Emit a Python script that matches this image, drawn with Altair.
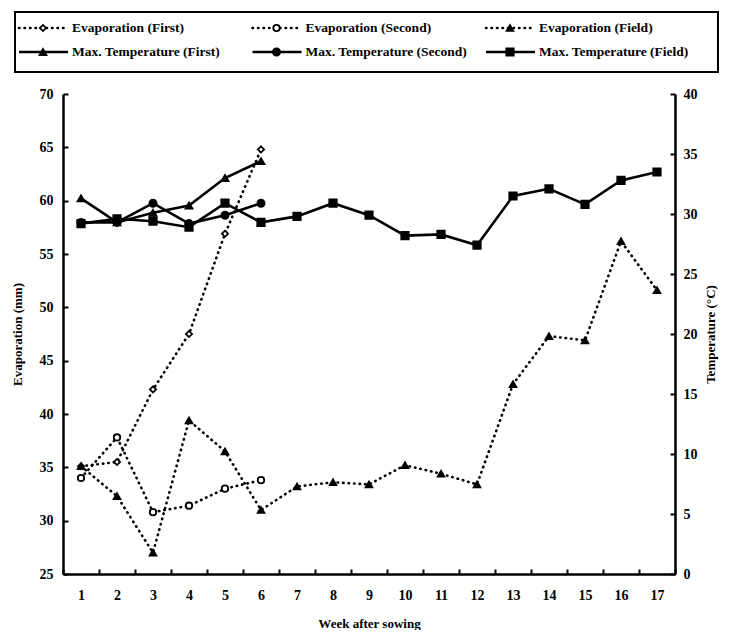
import altair as alt
import pandas as pd

weeks = list(range(1, 18))
series_names = [
    "Evaporation (First)", "Evaporation (Second)", "Evaporation (Field)",
    "Max. Temperature (First)", "Max. Temperature (Second)", "Max. Temperature (Field)",
]
evap_first = [35.1, 35.5, 42.3, 47.5, 56.9, 64.8]
evap_second = [34.0, 37.8, 30.8, 31.4, 33.0, 33.8]
evap_field = [35.1, 32.3, 27.0, 39.4, 36.5, 31.0, 33.2, 33.6, 33.4, 35.2, 34.4, 33.4,
              42.8, 47.3, 46.9, 56.2, 51.6]
temp_first = [31.3, 29.3, 30.1, 30.7, 33.0, 34.4]
temp_second = [29.3, 29.3, 30.9, 29.2, 29.9, 30.9]
temp_field = [29.2, 29.6, 29.4, 28.9, 30.9, 29.3, 29.8, 30.9, 29.9, 28.2, 28.3, 27.4,
              31.5, 32.1, 30.8, 32.8, 33.5]
evap_ticks = [25, 30, 35, 40, 45, 50, 55, 60, 65, 70]
temp_ticks = [0, 5, 10, 15, 20, 25, 30, 35, 40]

all_series = [evap_first, evap_second, evap_field, temp_first, temp_second, temp_field]
rows = []
for name, vals in zip(series_names, all_series):
    for w, v in zip(weeks, vals):
        rows.append({"week": w, "value": v, "series": name,
                     "kind": "evap" if name.startswith("Evap") else "temp"})
df = pd.DataFrame(rows)

FONT = "Liberation Serif"

shape_scale = alt.Scale(domain=series_names,
                        range=["diamond", "circle", "triangle-up", "triangle-up", "circle", "square"])
fill_scale = alt.Scale(domain=series_names,
                       range=["white", "white", "black", "black", "black", "black"])
size_scale = alt.Scale(domain=series_names, range=[38, 55, 40, 80, 115, 105])

inward = {"expr": "-5"}

x_enc = alt.X("week:O", bandPosition=0.5,
              scale=alt.Scale(type="band", paddingInner=0, paddingOuter=0),
              axis=alt.Axis(title="Week after sowing", labelAngle=0, tickBand="extent",
                            tickSize=inward, labelPadding=19, titlePadding=15))

y_evap = alt.Y("value:Q", scale=alt.Scale(domain=[25, 70], nice=False, zero=False),
               axis=alt.Axis(orient="left", title="Evaporation (mm)", values=evap_ticks,
                             tickSize=inward, labelPadding=15, titlePadding=15))
y_temp = alt.Y("value:Q", scale=alt.Scale(domain=[0, 40], nice=False),
               axis=alt.Axis(orient="right", title="Temperature (°C)", values=temp_ticks,
                             tickSize=inward, labelPadding=13, titlePadding=20, titleAngle=270))


def marker_enc():
    return dict(
        shape=alt.Shape("series:N", scale=shape_scale, legend=None),
        fill=alt.Fill("series:N", scale=fill_scale, legend=None),
        size=alt.Size("series:N", scale=size_scale, legend=None),
    )


base_e = alt.Chart(df).transform_filter(alt.datum.kind == "evap")
base_t = alt.Chart(df).transform_filter(alt.datum.kind == "temp")

evap_layer = alt.layer(
    base_e.mark_line(color="black", strokeWidth=2.6, strokeDash=[0.5, 5], strokeCap="round").encode(
        x=x_enc, y=y_evap, detail="series:N"),
    base_e.mark_point(opacity=1, strokeWidth=1.8, stroke="black").encode(
        x=x_enc, y=y_evap, **marker_enc()),
)
temp_layer = alt.layer(
    base_t.mark_line(color="black", strokeWidth=2.6).encode(
        x=x_enc, y=y_temp, detail="series:N"),
    base_t.mark_point(opacity=1, strokeWidth=1.8, stroke="black").encode(
        x=x_enc, y=y_temp, **marker_enc()),
)
data_layer = alt.layer(evap_layer, temp_layer).resolve_scale(y="independent")

# legend drawn above the plot area
leg = pd.DataFrame({
    "series": series_names,
    "col": [0, 1, 2, 0, 1, 2],
    "row": [0, 0, 0, 1, 1, 1],
    "kind": ["evap"] * 3 + ["temp"] * 3,
})
lx = alt.X("col:Q", scale=alt.Scale(domain=[0, 2], range=[-44, 423], nice=False, zero=False),
           axis=None)
lx2 = alt.X2("col")
ly = alt.Y("row:O", scale=alt.Scale(type="point", domain=[0, 1], range=[-66, -42], padding=0),
           axis=None)
lbase = alt.Chart(leg)
legend_layer = alt.layer(
    lbase.transform_filter(alt.datum.kind == "evap").mark_rule(
        color="black", strokeWidth=2.6, strokeDash=[0.5, 5], strokeCap="round",
        x2Offset=47).encode(x=lx, x2=lx2, y=ly),
    lbase.transform_filter(alt.datum.kind == "temp").mark_rule(
        color="black", strokeWidth=2.6, x2Offset=49).encode(x=lx, x2=lx2, y=ly),
    lbase.mark_point(opacity=1, strokeWidth=1.8, stroke="black", xOffset=24).encode(
        x=lx, y=ly, **marker_enc()),
    lbase.mark_text(align="left", baseline="middle", dx=53, font=FONT, fontWeight="bold",
                    fontSize=13.5, color="black").encode(x=lx, y=ly, text="series:N"),
    lbase.mark_rect(fillOpacity=0, stroke="black", strokeWidth=2).encode(
        x=alt.value(-48), x2=alt.value(655), y=alt.value(-82), y2=alt.value(-22)),
)

chart = alt.layer(data_layer, legend_layer).resolve_scale(
    x="independent", y="independent"
).properties(
    width=612, height=480,
    padding={"left": 3, "top": 3, "right": 0, "bottom": 0},
).configure_view(stroke=None).configure_axis(
    labelFont=FONT, labelFontWeight="bold", labelFontSize=14, labelColor="black",
    titleFont=FONT, titleFontWeight="bold", titleFontSize=13, titleColor="black",
    domainColor="black", domainWidth=2.5, tickColor="black", tickWidth=2, grid=False,
)

chart.save("out.html", embed_options={"renderer": "svg", "actions": False})
